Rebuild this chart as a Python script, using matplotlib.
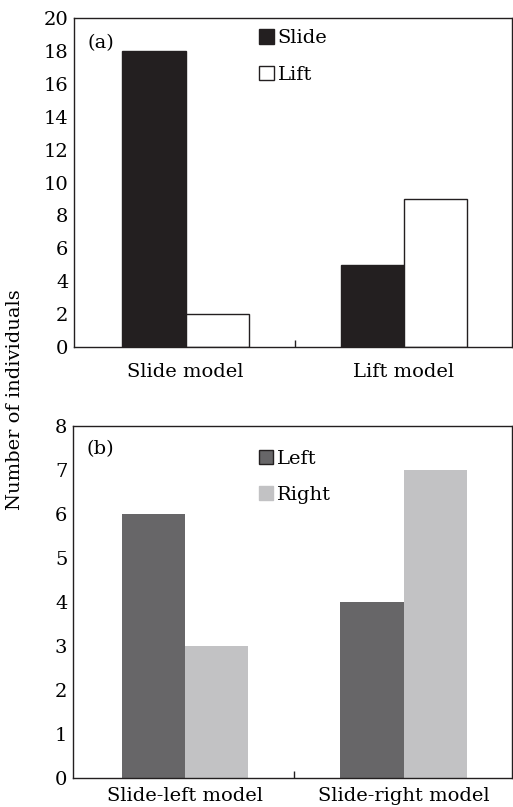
import matplotlib
matplotlib.use("Agg")
import matplotlib.pyplot as plt
from matplotlib.patches import Patch
import numpy as np

# Panel (a): choice by model type
models_a = ["Slide model", "Lift model"]
slide_counts = [18, 5]
lift_counts = [2, 9]

# Panel (b): direction by slide model
models_b = ["Slide-left model", "Slide-right model"]
left_counts = [6, 4]
right_counts = [3, 7]

plt.rcParams["font.family"] = ["DejaVu Serif"]
plt.rcParams["font.size"] = 13

fig = plt.figure(figsize=(5.13, 8.07), dpi=100)
ax_a = fig.add_axes([0.1442, 0.5704, 0.854, 0.4069])
ax_b = fig.add_axes([0.1423, 0.0356, 0.856, 0.4365])

x = np.arange(2)
w = 0.29
edge = "#231f20"


def style_axes(ax, labels, pad):
    ax.set_xlim(-0.512, 1.495)
    ax.set_xticks(x)
    ax.set_xticklabels(labels, fontsize=14)
    ax.set_xticks([0.5], minor=True)
    ax.tick_params(axis="x", which="major", length=0, pad=pad)
    ax.tick_params(axis="x", which="minor", direction="in", length=5, width=1, color=edge)
    ax.tick_params(axis="y", length=0, pad=4, labelsize=14)
    for s in ax.spines.values():
        s.set_linewidth(1.0)
        s.set_color(edge)


# Panel (a)
ax_a.bar(x - w / 2, slide_counts, w, color=edge, edgecolor=edge, linewidth=1)
ax_a.bar(x + w / 2, lift_counts, w, color="white", edgecolor=edge, linewidth=1)
ax_a.set_ylim(0, 20)
ax_a.set_yticks(range(0, 21, 2))
style_axes(ax_a, models_a, 12)
ax_a.text(0.03, 0.925, "(a)", transform=ax_a.transAxes, fontsize=14, va="center", ha="left")
handles_a = [Patch(facecolor=edge, edgecolor=edge, label="Slide"),
             Patch(facecolor="white", edgecolor=edge, label="Lift")]
ax_a.legend(handles=handles_a, loc="upper left", bbox_to_anchor=(0.405, 0.99), frameon=False,
            handlelength=0.75, handleheight=0.75, handletextpad=0.2, labelspacing=0.95,
            fontsize=14, borderaxespad=0)

# Panel (b)
ax_b.bar(x - w / 2, left_counts, w, color="#676668", linewidth=0)
ax_b.bar(x + w / 2, right_counts, w, color="#c2c2c4", linewidth=0)
ax_b.set_ylim(0, 8)
ax_b.set_yticks(range(0, 9))
style_axes(ax_b, models_b, 6)
ax_b.text(0.03, 0.935, "(b)", transform=ax_b.transAxes, fontsize=14, va="center", ha="left")
handles_b = [Patch(facecolor="#676668", edgecolor=edge, label="Left"),
             Patch(facecolor="#c2c2c4", edgecolor="#c2c2c4", label="Right")]
ax_b.legend(handles=handles_b, loc="upper left", bbox_to_anchor=(0.405, 0.955), frameon=False,
            handlelength=0.75, handleheight=0.75, handletextpad=0.2, labelspacing=0.95,
            fontsize=14, borderaxespad=0)

fig.text(0.03, 0.505, "Number of individuals", rotation=90, ha="center", va="center", fontsize=14)

fig.savefig("out.png", dpi=100)
plt.close(fig)
